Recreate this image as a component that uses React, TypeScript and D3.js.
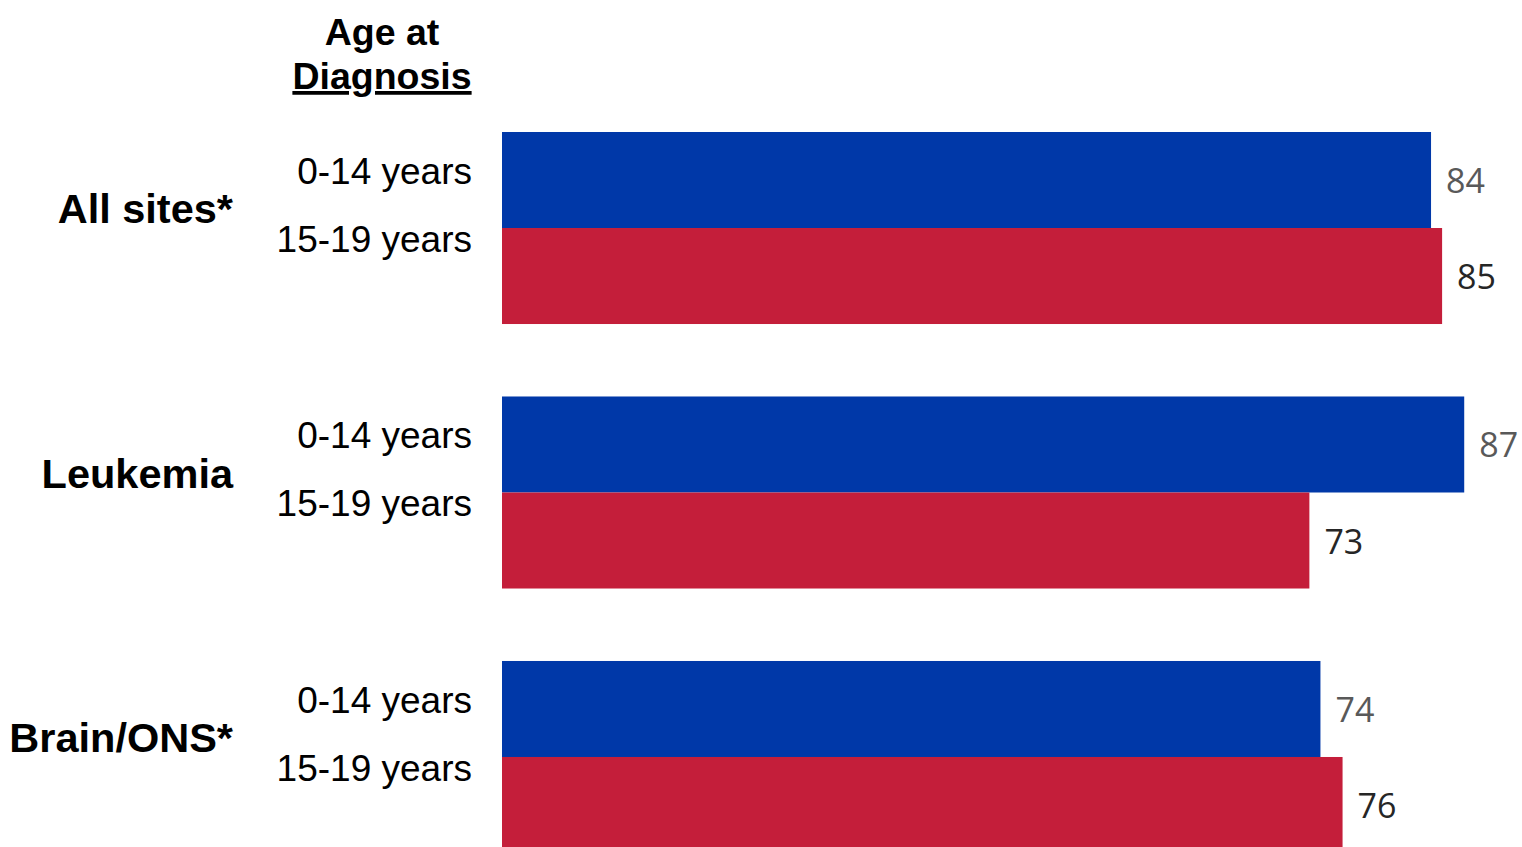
import React from "react";
import * as d3 from "d3";

const categories = ["All sites*", "Leukemia", "Brain/ONS*"];
const ageGroups = ["0-14 years", "15-19 years"];
const values0to14 = [84, 87, 74];
const values15to19 = [85, 73, 76];
const seriesColors = ["#0038A8", "#C41E3A"];
const labelColors = ["#595959", "#262626"];

const W = 1522;
const H = 847;

export default function App() {
  const x = d3.scaleLinear().domain([0, 100]).range([502, 1608]);
  const y = d3
    .scaleBand<string>()
    .domain(categories)
    .range([132, 853])
    .paddingInner(0.274)
    .paddingOuter(0);
  const sub = d3
    .scaleBand<string>()
    .domain(ageGroups)
    .range([0, y.bandwidth()])
    .padding(0);
  const series = [values0to14, values15to19];
  const ageLabelOffsets = [52, 120];

  return (
    <svg
      width={W}
      height={H}
      style={{ position: "absolute", left: 0, top: 0, background: "#fff" }}
    >
      <text
        x={382}
        y={45}
        textAnchor="middle"
        fontFamily="Liberation Sans, Arial, sans-serif"
        fontWeight="bold"
        fontSize={37.5}
        fill="#000"
      >
        Age at
      </text>
      <text
        x={382}
        y={89}
        textAnchor="middle"
        fontFamily="Liberation Sans, Arial, sans-serif"
        fontWeight="bold"
        fontSize={37.5}
        fill="#000"
        textDecoration="underline"
      >
        Diagnosis
      </text>
      {categories.map((c, i) => {
        const top = y(c)!;
        const center = top + y.bandwidth() / 2;
        return (
          <g key={c}>
            {series.map((vals, s) => {
              const by = top + sub(ageGroups[s])!;
              return (
                <g key={s}>
                  <rect
                    x={x(0)}
                    y={by}
                    width={x(vals[i]) - x(0)}
                    height={sub.bandwidth()}
                    fill={seriesColors[s]}
                  />
                  <text
                    x={x(vals[i]) + 15}
                    y={by + sub.bandwidth() / 2 + 13}
                    fontFamily="Open Sans, Noto Sans, sans-serif"
                    fontSize={34}
                    fill={labelColors[s]}
                  >
                    {vals[i]}
                  </text>
                </g>
              );
            })}
            {ageGroups.map((a, s) => (
              <text
                key={a}
                x={472}
                y={top + ageLabelOffsets[s]}
                textAnchor="end"
                fontFamily="Liberation Sans, Arial, sans-serif"
                fontSize={37}
                fill="#000"
              >
                {a}
              </text>
            ))}
            <text
              x={233}
              y={center - 5}
              textAnchor="end"
              fontFamily="Liberation Sans, Arial, sans-serif"
              fontWeight="bold"
              fontSize={41.5}
              fill="#000"
            >
              {c}
            </text>
          </g>
        );
      })}
    </svg>
  );
}
